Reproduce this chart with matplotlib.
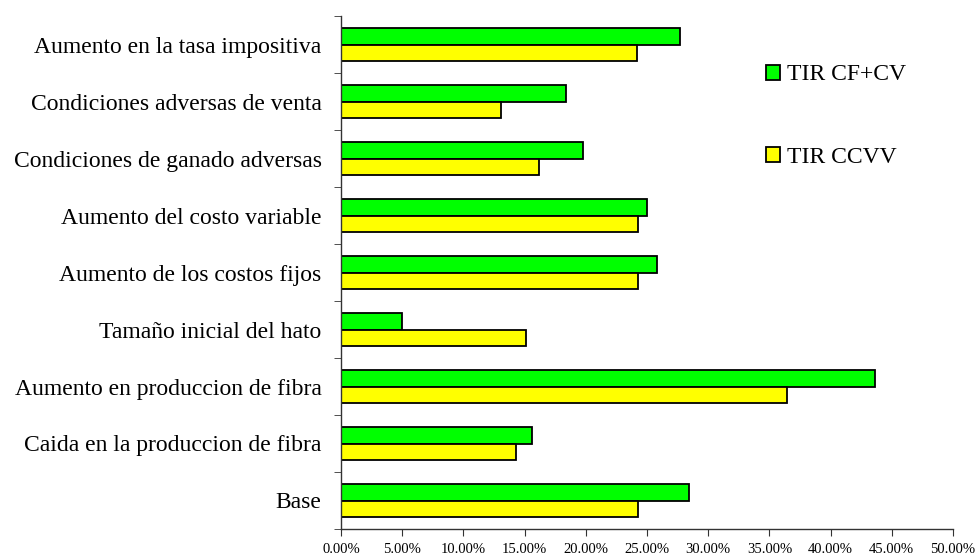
import numpy as np
import matplotlib
matplotlib.use('Agg')
import matplotlib.pyplot as plt
from matplotlib.ticker import FuncFormatter

plt.rcParams['font.family'] = ['Liberation Serif', 'DejaVu Serif']

# datos (de arriba hacia abajo)
categorias = ['Aumento en la tasa impositiva',
              'Condiciones adversas de venta',
              'Condiciones de ganado adversas',
              'Aumento del costo variable',
              'Aumento de los costos fijos',
              'Tamaño inicial del hato',
              'Aumento en produccion de fibra',
              'Caida en la produccion de fibra',
              'Base']
tir_cfcv = [27.7, 18.4, 19.8, 25.0, 25.8, 5.0, 43.6, 15.6, 28.4]
tir_ccvv = [24.2, 13.1, 16.2, 24.3, 24.3, 15.1, 36.4, 14.3, 24.3]

fig = plt.figure(figsize=(9.77, 5.59), dpi=100)
ax = fig.add_axes([341/977, 30/559, (953-341)/977, (543-30)/559])

y = np.arange(len(categorias))
h = 0.29
b1 = ax.barh(y - h/2, tir_cfcv, height=h, color='#00FF00', edgecolor='black',
             linewidth=1.3, label='TIR CF+CV')
b2 = ax.barh(y + h/2, tir_ccvv, height=h, color='#FFFF00', edgecolor='black',
             linewidth=1.3, label='TIR CCVV')

ax.set_ylim(len(categorias) - 0.5, -0.5)
ax.set_xlim(0, 50)
ax.set_xticks(np.arange(0, 50.1, 5))
ax.xaxis.set_major_formatter(FuncFormatter(lambda v, p: f'{v:.2f}%'))

ax.set_yticks(y)
ax.set_yticklabels(categorias, fontsize=17)
ax.set_yticks(np.arange(-0.5, len(categorias), 1), minor=True)
ax.tick_params(axis='y', which='major', length=0, pad=14)
ax.tick_params(axis='y', which='minor', length=5, color='#333333')
ax.tick_params(axis='x', length=5, color='#333333', labelsize=10.5, pad=5)

for s in ['top', 'right']:
    ax.spines[s].set_visible(False)
for s in ['left', 'bottom']:
    ax.spines[s].set_color('#333333')
    ax.spines[s].set_linewidth(1.0)

ax.legend(handles=[b1, b2], loc='upper left', bbox_to_anchor=(0.66, 0.947),
          frameon=False, fontsize=17, handlelength=0.6, handleheight=0.6,
          handletextpad=0.3, labelspacing=2.6)

fig.savefig('out.png', dpi=100)
